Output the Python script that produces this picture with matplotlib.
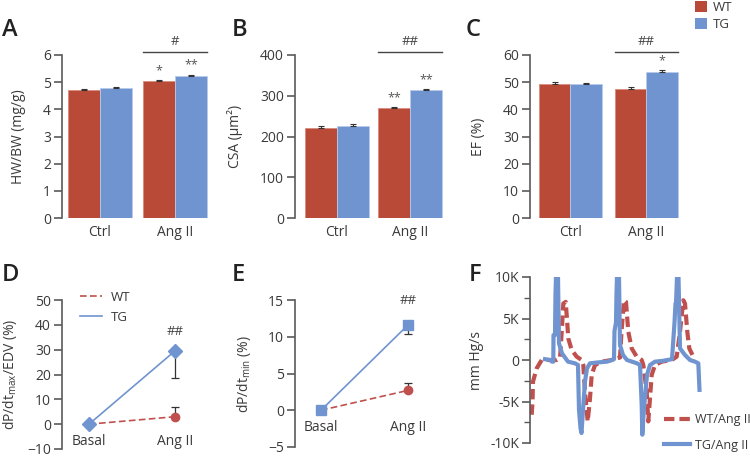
import matplotlib
matplotlib.use('Agg')
import matplotlib.pyplot as plt
from matplotlib.patches import Patch
from matplotlib.lines import Line2D

plt.rcParams['font.family'] = ['Open Sans', 'DejaVu Sans']
plt.rcParams['mathtext.fontset'] = 'custom'
plt.rcParams['mathtext.rm'] = 'Open Sans'
TXT = '#3a3a3a'
SPINE = '#5a5a5a'
plt.rcParams['text.color'] = TXT
plt.rcParams['axes.labelcolor'] = TXT
plt.rcParams['xtick.color'] = SPINE
plt.rcParams['ytick.color'] = SPINE
plt.rcParams['xtick.labelcolor'] = TXT
plt.rcParams['ytick.labelcolor'] = TXT

RED = '#B84A37'
BLUE = '#7094D0'
LRED = '#C0504D'

# ---------------- data ----------------
groups = ['Ctrl', 'Ang II']
hw_wt = [4.72, 5.03]
hw_wt_err = [0.04, 0.04]
hw_tg = [4.78, 5.24]
hw_tg_err = [0.04, 0.04]
hw_wt_sig = ['', '*']
hw_tg_sig = ['', '**']
hw_group_sig = '#'

csa_wt = [222, 270]
csa_wt_err = [3, 3]
csa_tg = [226, 313]
csa_tg_err = [4, 3]
csa_wt_sig = ['', '**']
csa_tg_sig = ['', '**']
csa_group_sig = '##'

ef_wt = [49.5, 47.6]
ef_wt_err = [0.5, 0.5]
ef_tg = [49.2, 53.9]
ef_tg_err = [0.4, 0.6]
ef_wt_sig = ['', '']
ef_tg_sig = ['', '*']
ef_group_sig = '##'

stages = ['Basal', 'Ang II']
dmax_wt = [0, 3.0]
dmax_wt_err = [0, 4.0]
dmax_tg = [0, 29.5]
dmax_tg_err = [0, 11.0]
dmin_wt = [0, 2.7]
dmin_wt_err = [0, 1.0]
dmin_tg = [0, 11.6]
dmin_tg_err = [0, 1.2]

# pressure derivative traces (time in arbitrary units, values in K mm Hg/s)
tg_t = [15, 20, 22, 23.3, 23.5, 25, 25.5, 26, 27, 27.5, 28, 29, 32, 38, 45, 48, 49,
        50.5, 51.5, 53, 55, 57, 60, 67, 77, 82, 84, 84.5, 86, 86.5, 87, 88, 88.5,
        89, 90, 93, 97, 102, 107, 110, 111.7, 112.3, 114, 117, 120, 125, 133, 142,
        144.5, 145.5, 146, 147, 148.5, 150, 155, 160, 165, 168.3, 169.5]
tg_v = [0.1, 0.0, -0.2, -0.2, 3.0, 3.0, 8.0, 10.0, 6.5, 10.0, 10.0, 2.0, 0.8, -0.2,
        -0.4, -0.6, -6.0, -8.2, -8.8, -6.0, -2.6, -1.0, -0.4, -0.3, -0.2, 0.0, 0.1,
        3.5, 4.5, 8.0, 10.0, 6.5, 10.0, 10.0, 1.8, 0.6, 0.0, -0.2, -0.4, -0.6, -5.4,
        -9.0, -5.8, -1.8, -0.6, -0.2, -0.1, 0.1, 4.5, 6.8, 6.8, 10.0, 10.0, 1.4,
        0.6, 0.0, -0.2, -0.4, -3.6]

wt_t = [1.7, 2.5, 3, 6.7, 11.7, 18, 26.7, 30, 31.7, 33.3, 35.7, 36.7, 38.3, 41.7,
        46.7, 51.7, 53.3, 55, 57.7, 60, 61.7, 65, 71.7, 81.7, 90, 91.5, 94, 96,
        98.3, 101.7, 106.7, 111.7, 113.3, 116.7, 118.3, 120, 121.7, 125, 131.7,
        141.7, 146.7, 150, 153.3, 155, 157.3, 159.3, 163.3, 165]
wt_v = [-6.6, -5.0, -2.6, -1.0, 0.0, 0.0, 0.0, 0.2, 3.4, 6.8, 7.0, 5.4, 2.6, 1.2,
        0.4, 0.0, -0.6, -3.8, -7.4, -4.6, -1.8, -0.6, -0.2, 0.0, 0.3, 3.4, 7.2,
        7.0, 3.4, 1.4, 0.4, 0.0, -0.6, -3.8, -7.4, -4.6, -1.8, -0.6, -0.2, 0.0,
        0.4, 3.4, 7.2, 6.8, 3.4, 1.4, 0.4, 0.5]

# ---------------- figure ----------------
W, H = 750, 458
fig = plt.figure(figsize=(W / 100, H / 100), dpi=100)
FS = 10


def ax_px(l, t, r, b):
    return fig.add_axes([l / W, 1 - b / H, (r - l) / W, (b - t) / H])


def style(ax):
    for s in ['top', 'right', 'bottom']:
        ax.spines[s].set_visible(False)
    ax.spines['left'].set_color(SPINE)
    ax.spines['left'].set_linewidth(1.2)
    ax.tick_params(axis='y', length=6, width=1.2, labelsize=FS, pad=2)
    ax.tick_params(axis='x', length=0, labelsize=FS)


def bar_panel(ax, wt, wte, tg, tge, wsig, tsig, gsig, ylim, yticks, ylabel, xl, xr, bw, lpad):
    style(ax)
    x = [0, 1]
    ax.bar([i - bw / 2 for i in x], wt, bw, color=RED, edgecolor='#d98a7c', linewidth=0.6, zorder=2)
    ax.bar([i + bw / 2 for i in x], tg, bw, color=BLUE, edgecolor='#b7cbee', linewidth=0.6, zorder=2)
    ax.errorbar([i - bw / 2 for i in x], wt, yerr=[[0, 0], wte], fmt='none',
                ecolor='#333333', elinewidth=0.8, capsize=2.5, capthick=0.8, zorder=3)
    ax.errorbar([i + bw / 2 for i in x], tg, yerr=[[0, 0], tge], fmt='none',
                ecolor='#333333', elinewidth=0.8, capsize=2.5, capthick=0.8, zorder=3)
    for i in x:
        if wsig[i]:
            ax.annotate(wsig[i], (i - bw / 2, wt[i] + wte[i]), xytext=(0, 2),
                        textcoords='offset points', ha='center', va='bottom', fontsize=9, color='#555555')
        if tsig[i]:
            ax.annotate(tsig[i], (i + bw / 2, tg[i] + tge[i]), xytext=(0, 2),
                        textcoords='offset points', ha='center', va='bottom', fontsize=9, color='#555555')
    ax.set_ylim(*ylim)
    ax.set_yticks(yticks)
    ax.set_xlim(xl, xr)
    ax.set_xticks(x)
    ax.set_xticklabels(groups)
    ax.tick_params(axis='x', pad=5)
    ax.set_ylabel(ylabel, fontsize=FS, labelpad=lpad)
    # group significance bar
    ax.plot([1 - bw, 1 + bw], [1.02, 1.02], color='#444444', lw=1.0,
            transform=ax.get_xaxis_transform(), clip_on=False)
    ax.text(1, 1.04, gsig, transform=ax.get_xaxis_transform(), ha='center', va='bottom',
            fontsize=9.5, color='#444444')


axA = ax_px(62, 55, 212, 218)
bar_panel(axA, hw_wt, hw_wt_err, hw_tg, hw_tg_err, hw_wt_sig, hw_tg_sig, hw_group_sig,
          (0, 6), range(0, 7), 'HW/BW (mg/g)', -0.507, 1.493, 0.427, 12)
axB = ax_px(295, 55, 445, 218)
bar_panel(axB, csa_wt, csa_wt_err, csa_tg, csa_tg_err, csa_wt_sig, csa_tg_sig, csa_group_sig,
          (0, 400), range(0, 401, 100), 'CSA (μm²)', -0.575, 1.479, 0.438, 12)
axC = ax_px(530, 55, 685, 218)
bar_panel(axC, ef_wt, ef_wt_err, ef_tg, ef_tg_err, ef_wt_sig, ef_tg_sig, ef_group_sig,
          (0, 60), range(0, 61, 10), 'EF (%)', -0.533, 1.507, 0.414, 12)

fig.legend(handles=[Patch(facecolor=RED, edgecolor='none', label='WT'),
                    Patch(facecolor=BLUE, edgecolor='none', label='TG')],
           loc='upper left', bbox_to_anchor=(694 / W, 1.0), frameon=False,
           fontsize=9.5, handlelength=0.9, handleheight=0.9, handletextpad=0.5,
           labelspacing=0.3, borderaxespad=0, borderpad=0.05)


def line_panel(ax, wt, wte, tg, tge, tg_marker, ylim, yticks, ylabel, xl, xr, sig_off, lpad):
    style(ax)
    x = [0, 1]
    ax.spines['bottom'].set_position(('data', 0))
    ax.plot(x, wt, color=LRED, ls=(0, (4, 2)), lw=1.2, zorder=2)
    ax.plot(x, tg, color=BLUE, lw=1.2, zorder=2)
    ax.errorbar(x[1:], wt[1:], yerr=[[0], wte[1:]], fmt='none', ecolor='#333333',
                elinewidth=0.9, capsize=3, capthick=0.9, zorder=1)
    ax.errorbar(x[1:], tg[1:], yerr=[tge[1:], [0]], fmt='none', ecolor='#333333',
                elinewidth=0.9, capsize=3, capthick=0.9, zorder=1)
    ax.plot(x[1:], wt[1:], 'o', color=LRED, ms=6, zorder=3)
    ax.plot(x, tg, tg_marker, color=BLUE, ms=7, zorder=4)
    ax.annotate('##', (1, tg[1]), xytext=(0, sig_off), textcoords='offset points',
                ha='center', va='bottom', fontsize=9.5, color='#444444')
    ax.set_ylim(*ylim)
    ax.set_yticks(yticks)
    ax.set_xlim(xl, xr)
    ax.set_xticks(x)
    ax.set_xticklabels(stages)
    ax.tick_params(axis='x', pad=7)
    ax.set_ylabel(ylabel, fontsize=FS, labelpad=lpad)


axD = ax_px(62, 300, 205, 449)
line_panel(axD, dmax_wt, dmax_wt_err, dmax_tg, dmax_tg_err, 'D', (-10, 50),
           range(-10, 51, 10), r'dP/dt$_\mathregular{max}$/EDV (%)', -0.314, 1.349, 9, 6)
axD.legend(handles=[Line2D([], [], color=LRED, ls=(0, (4, 2)), lw=1.2, label='WT'),
                    Line2D([], [], color=BLUE, lw=1.2, label='TG')],
           loc='upper left', bbox_to_anchor=(0.04, 1.14), frameon=False, fontsize=9.5,
           handlelength=1.7, handletextpad=0.7, labelspacing=0.5)

axE = ax_px(295, 300, 440, 447)
line_panel(axE, dmin_wt, dmin_wt_err, dmin_tg, dmin_tg_err, 's', (-5, 15),
           range(-5, 16, 5), r'dP/dt$_\mathregular{min}$ (%)', -0.299, 1.368, 13, 11)

axF = ax_px(530, 277, 705, 443)
style(axF)
axF.plot(wt_t, wt_v, color=LRED, lw=3.0, ls=(0, (2.5, 1.2)), zorder=2)
axF.plot(tg_t, tg_v, color=BLUE, lw=3.0, zorder=3)
axF.set_ylim(-10, 10)
axF.set_yticks([-10, -5, 0, 5, 10])
axF.set_yticklabels(['-10K', '-5K', '0', '5K', '10K'])
axF.set_yticks([-7.5, -2.5, 2.5, 7.5], minor=True)
axF.tick_params(axis='y', which='minor', length=4, width=1.0)
axF.set_xlim(0, 175)
axF.set_xticks([])
axF.set_ylabel('mm Hg/s', fontsize=FS, labelpad=4)
axF.legend(handles=[Line2D([], [], color=LRED, lw=3.0, ls=(0, (2.5, 1.2)), label='WT/Ang II'),
                    Line2D([], [], color=BLUE, lw=3.0, label='TG/Ang II')],
           loc='lower left', bbox_to_anchor=(0.7, -0.12), frameon=False, fontsize=9,
           handlelength=2.1, handletextpad=0.4, labelspacing=1.0)

# panel letters
for letter, (px, py) in zip('ABCDEF', [(2, 30), (232, 30), (466, 30), (2, 275), (232, 275), (469, 275)]):
    fig.text(px / W, 1 - py / H, letter, fontsize=17, fontweight='semibold', va='center',
             ha='left', color='#222222')

fig.savefig('out.png', dpi=100)
